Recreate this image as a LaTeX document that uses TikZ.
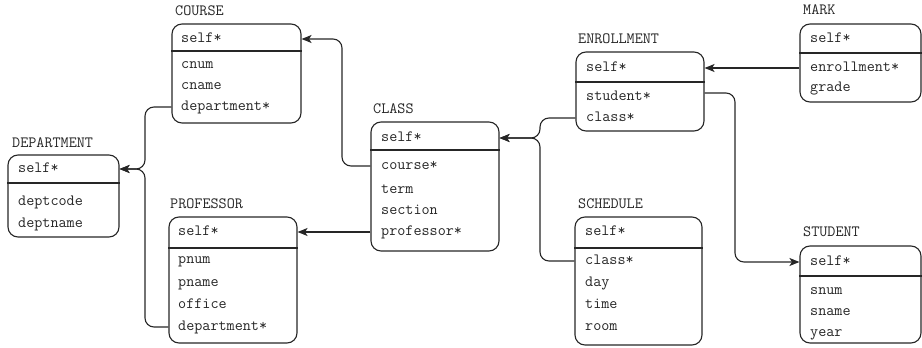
\documentclass[tikz,border=0pt]{standalone}
\usetikzlibrary{arrows.meta,fit}
\begin{document}
\begin{tikzpicture}[x=1pt,y=-1pt,
  entity/.style={draw=black!85, line width=1.1pt, rounded corners=10pt, inner sep=0pt},
  sepline/.style={draw=black!85, line width=1.1pt},
  ename/.style={anchor=west, inner sep=0pt, text=black!85,
    font=\ttfamily\fontsize{15.7}{18}\selectfont, text height=10pt, text depth=3pt},
  field/.style={ename},
  fk/.style={draw=black!85, line width=1.1pt, rounded corners=9pt,
    -{Stealth[length=10pt,width=8pt,inset=2.5pt]}},
]
\useasboundingbox (0,0) rectangle (922,348);

% ---------- DEPARTMENT ----------
\node[ename] (dept-t) at (12,144) {DEPARTMENT};
\node[entity, fit={(8,155) (119,237)}] (dept) {};
\draw[sepline] (dept.west |- 0,183) -- (dept.east |- 0,183);
\node[field] (dept-self) at (18,169) {self*};
\node[field] (dept-code) at (18,202) {deptcode};
\node[field] (dept-name) at (18,224) {deptname};

% ---------- COURSE ----------
\node[ename] (course-t) at (175,12) {COURSE};
\node[entity, fit={(172,24) (301,123)}] (course) {};
\draw[sepline] (course.west |- 0,51) -- (course.east |- 0,51);
\node[field] (course-self) at (181,39) {self*};
\node[field] (course-cnum) at (181,65) {cnum};
\node[field] (course-cname) at (181,86) {cname};
\node[field] (course-dept) at (181,107) {department*};

% ---------- PROFESSOR ----------
\node[ename] (prof-t) at (170,205) {PROFESSOR};
\node[entity, fit={(169,217) (297,343)}] (prof) {};
\draw[sepline] (prof.west |- 0,248) -- (prof.east |- 0,248);
\node[field] (prof-self) at (178,232) {self*};
\node[field] (prof-pnum) at (178,260) {pnum};
\node[field] (prof-pname) at (178,283) {pname};
\node[field] (prof-office) at (178,305) {office};
\node[field] (prof-dept) at (178,327) {department*};

% ---------- CLASS ----------
\node[ename] (class-t) at (373,110) {CLASS};
\node[entity, fit={(371,122) (499,251)}] (class) {};
\draw[sepline] (class.west |- 0,150) -- (class.east |- 0,150);
\node[field] (class-self) at (381,138) {self*};
\node[field] (class-course) at (381,166) {course*};
\node[field] (class-term) at (381,190) {term};
\node[field] (class-section) at (381,211) {section};
\node[field] (class-prof) at (381,232) {professor*};

% ---------- ENROLLMENT ----------
\node[ename] (enr-t) at (578,40) {ENROLLMENT};
\node[entity, fit={(576,52) (704,131)}] (enr) {};
\draw[sepline] (enr.west |- 0,82) -- (enr.east |- 0,82);
\node[field] (enr-self) at (586,68) {self*};
\node[field] (enr-student) at (586,97) {student*};
\node[field] (enr-class) at (586,118) {class*};

% ---------- SCHEDULE ----------
\node[ename] (sch-t) at (578,205) {SCHEDULE};
\node[entity, fit={(575,217) (702,345)}] (sch) {};
\draw[sepline] (sch.west |- 0,248) -- (sch.east |- 0,248);
\node[field] (sch-self) at (585,232) {self*};
\node[field] (sch-class) at (585,261) {class*};
\node[field] (sch-day) at (585,283) {day};
\node[field] (sch-time) at (585,305) {time};
\node[field] (sch-room) at (585,327) {room};

% ---------- MARK ----------
\node[ename] (mark-t) at (803,11) {MARK};
\node[entity, fit={(800,24) (921,102)}] (mark) {};
\draw[sepline] (mark.west |- 0,53) -- (mark.east |- 0,53);
\node[field] (mark-self) at (810,39) {self*};
\node[field] (mark-enr) at (810,68) {enrollment*};
\node[field] (mark-grade) at (810,88) {grade};

% ---------- STUDENT ----------
\node[ename] (stu-t) at (803,233) {STUDENT};
\node[entity, fit={(800,246) (921,343)}] (stu) {};
\draw[sepline] (stu.west |- 0,276) -- (stu.east |- 0,276);
\node[field] (stu-self) at (810,262) {self*};
\node[field] (stu-snum) at (810,291) {snum};
\node[field] (stu-sname) at (810,312) {sname};
\node[field] (stu-year) at (810,333) {year};

% ---------- foreign keys ----------
\coordinate (busD) at (145,0);
\coordinate (busC) at (342,0);
\coordinate (busK) at (540,0);
\coordinate (busS) at (735,0);

\draw[fk] (course-dept -| course.west) -| (busD |- dept-self) -- (dept-self -| dept.east);
\draw[fk] (prof-dept -| prof.west) -| (busD |- dept-self) -- (dept-self -| dept.east);
\draw[fk] (class-course -| class.west) -| (busC |- course-self) -- (course-self -| course.east);
\draw[fk] (class-prof -| class.west) -- (prof-self -| prof.east);
\draw[fk] (enr-class -| enr.west) -| (busK |- class-self) -- (class-self -| class.east);
\draw[fk] (sch-class -| sch.west) -| (busK |- class-self) -- (class-self -| class.east);
\draw[fk] (mark-enr -| mark.west) -- (enr-self -| enr.east);
\draw[fk] ([yshift=4pt]enr-student -| enr.east) -| (busS |- stu-self) -- (stu-self -| stu.west);
\end{tikzpicture}
\end{document}
